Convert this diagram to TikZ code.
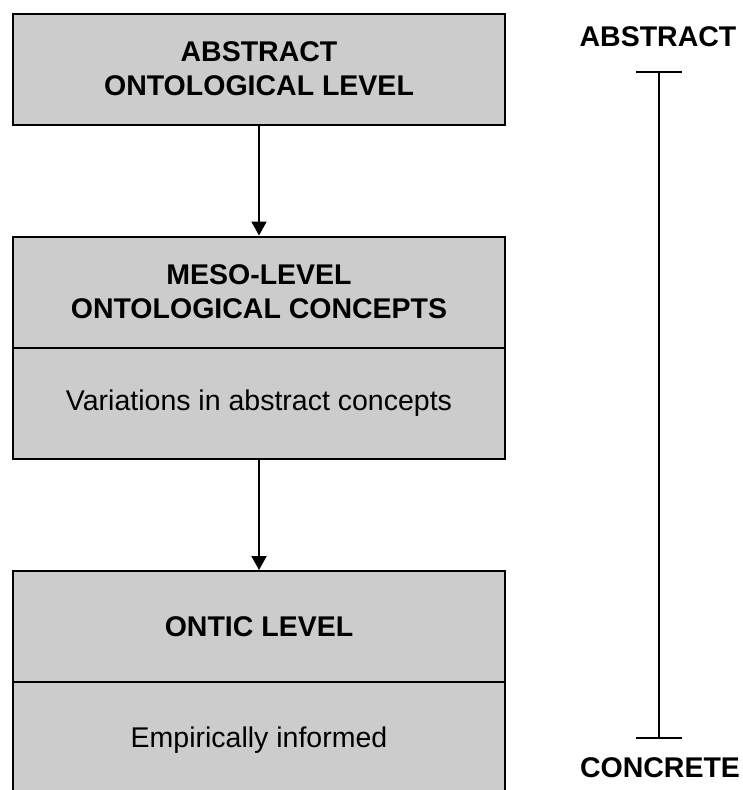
\documentclass[tikz,border=0pt]{standalone}
\usepackage{fontspec}
\setmainfont{Liberation Sans}
\usetikzlibrary{arrows.meta}

\begin{document}
\begin{tikzpicture}[x=1pt,y=-1pt,
  levelbox/.style={draw=black, line width=2pt, fill=boxgray, rectangle,
    minimum width=492pt, inner sep=0pt, align=center,
    font=\fontsize{28.5}{34}\selectfont},
  headtext/.style={font=\fontsize{28.5}{34}\selectfont\bfseries},
  flow/.style={line width=2pt, -{Triangle[length=14pt,width=15pt]}},
  scaleline/.style={line width=2pt, {Bar[width=46pt,line width=2pt]}-{Bar[width=46pt,line width=2pt]}},
  scalelabel/.style={font=\fontsize{28.5}{34}\selectfont\bfseries, inner sep=0pt}
]
\definecolor{boxgray}{HTML}{CCCCCC}
\useasboundingbox (0,0) rectangle (742,790);
\clip (0,0) rectangle (742,790);

% abstract level
\node[levelbox, headtext, minimum height=111pt] (abstract) at (259,69)
  {ABSTRACT\\ONTOLOGICAL LEVEL};

% meso level: heading and body
\node[levelbox, headtext, minimum height=111pt] (mesohead) at (259,292)
  {MESO-LEVEL\\ONTOLOGICAL CONCEPTS};
\node[levelbox, minimum height=111pt] (mesobody) at (259,403)
  {Variations in abstract concepts};

% ontic level: heading and body
\node[levelbox, headtext, minimum height=111pt] (ontichead) at (259,626.5)
  {ONTIC LEVEL};
\node[levelbox, minimum height=116pt] (onticbody) at (259,740)
  {Empirically informed};

% flow between levels
\draw[flow] (abstract) -- (mesohead);
\draw[flow] (mesobody) -- (ontichead);

% abstract-to-concrete scale
\coordinate (scaletop) at (659,71);
\coordinate (scalebot) at (659,739);
\draw[scaleline] (scaletop) -- (scalebot);
\node[scalelabel] (abstractlabel) at (658,37) {ABSTRACT};
\node[scalelabel] (concretelabel) at (660,768) {CONCRETE};
\end{tikzpicture}
\end{document}
